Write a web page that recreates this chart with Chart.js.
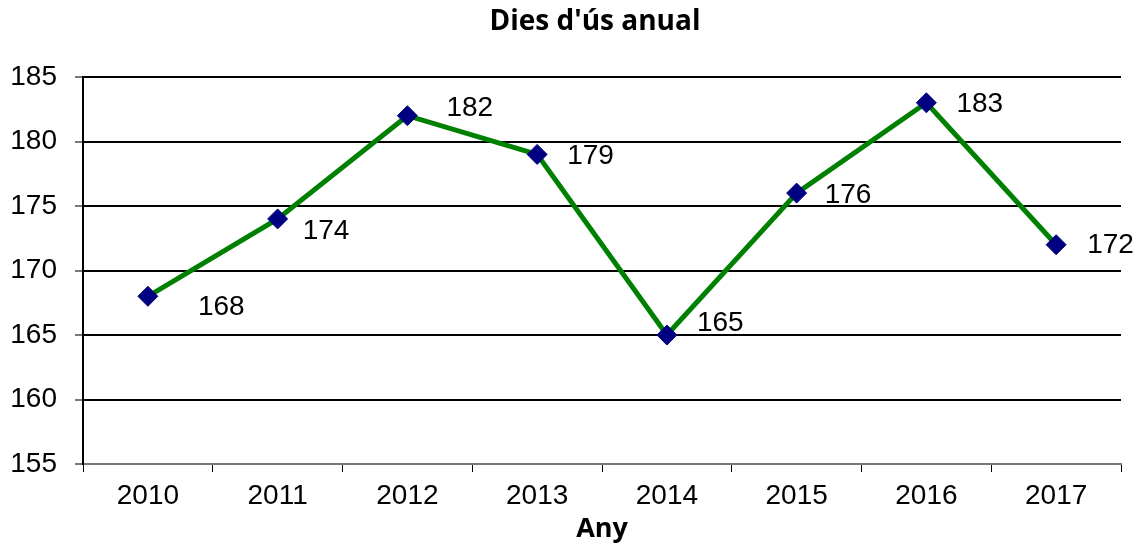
<!DOCTYPE html>
<html>
<head>
<meta charset="utf-8">
<script src="https://cdn.jsdelivr.net/npm/chart.js@4"></script>
<style>
  html, body { margin: 0; padding: 0; background: #fff; }
  #wrap { width: 1137px; height: 546px; }
</style>
</head>
<body>
<div id="wrap"><canvas id="chart" width="1137" height="546"></canvas></div>
<script>
// data
const years = ["2010", "2011", "2012", "2013", "2014", "2015", "2016", "2017"];
const days = [168, 174, 182, 179, 165, 176, 183, 172];

// where each value label sits relative to its point (px)
const labelDx = [50, 25, 39, 30, 30, 28, 30, 31];
const labelDy = [11, 12, -7, 2, -12, 2, 1, 1];

const chartTitle = "Dies d'ús anual";

const titlePlugin = {
    id: "plotTitle",
    afterDraw(chart) {
        const ctx = chart.ctx;
        const area = chart.chartArea;
        ctx.save();
        ctx.font = "bold 28px 'Open Sans', 'Noto Sans', sans-serif";
        ctx.fillStyle = "#000";
        ctx.textAlign = "center";
        ctx.textBaseline = "middle";
        ctx.fillText(chartTitle, (area.left + area.right) / 2 - 7, 22);
        ctx.restore();
    }
};

const valueLabels = {
    id: "valueLabels",
    afterDatasetsDraw(chart) {
        const ctx = chart.ctx;
        const meta = chart.getDatasetMeta(0);
        ctx.save();
        ctx.font = "28px 'Liberation Sans', Arial, sans-serif";
        ctx.fillStyle = "#000";
        ctx.textAlign = "left";
        ctx.textBaseline = "middle";
        meta.data.forEach((pt, i) => {
            ctx.fillText(String(days[i]), pt.x + labelDx[i], pt.y + labelDy[i]);
        });
        ctx.restore();
    }
};

new Chart(document.getElementById("chart"), {
    type: "line",
    data: {
        labels: years,
        datasets: [{
            data: days,
            borderColor: "#008000",
            borderWidth: 5,
            tension: 0,
            pointStyle: "rectRot",
            pointRadius: 10,
            pointHoverRadius: 10,
            pointBackgroundColor: "#000080",
            pointBorderColor: "#000080",
            pointBorderWidth: 1
        }]
    },
    options: {
        responsive: false,
        animation: false,
        layout: { padding: { top: 77, right: 16, left: 0, bottom: 0 } },
        plugins: {
            legend: { display: false },
            title: { display: false },
            tooltip: { enabled: false }
        },
        scales: {
            x: {
                offset: true,
                afterFit: s => { s.height = 82; },
                grid: {
                    offset: true,
                    drawOnChartArea: true,
                    color: c => (c.index === years.length ? "#888" : "rgba(0,0,0,0)"),
                    lineWidth: 1,
                    tickColor: "#000",
                    tickLength: 8
                },
                border: { color: "#777", width: 2 },
                ticks: {
                    color: "#000",
                    padding: 7,
                    font: { family: "'Liberation Sans', Arial, sans-serif", size: 28 }
                },
                title: {
                    display: true,
                    text: "Any",
                    color: "#000",
                    padding: { top: 0, bottom: 0 },
                    font: { family: "'Open Sans', 'Noto Sans', sans-serif", size: 27, weight: "bold" }
                }
            },
            y: {
                min: 155,
                max: 185,
                afterFit: s => { s.width = 83; },
                ticks: {
                    stepSize: 5,
                    color: "#000",
                    padding: 18,
                    font: { family: "'Liberation Sans', Arial, sans-serif", size: 28 }
                },
                grid: {
                    color: c => (c.tick && c.tick.value === 155 ? "#777" : "#000"),
                    lineWidth: 2,
                    tickColor: "#777",
                    tickLength: 8
                },
                border: { color: "#000", width: 2 }
            }
        }
    },
    plugins: [titlePlugin, valueLabels]
});
</script>
</body>
</html>
